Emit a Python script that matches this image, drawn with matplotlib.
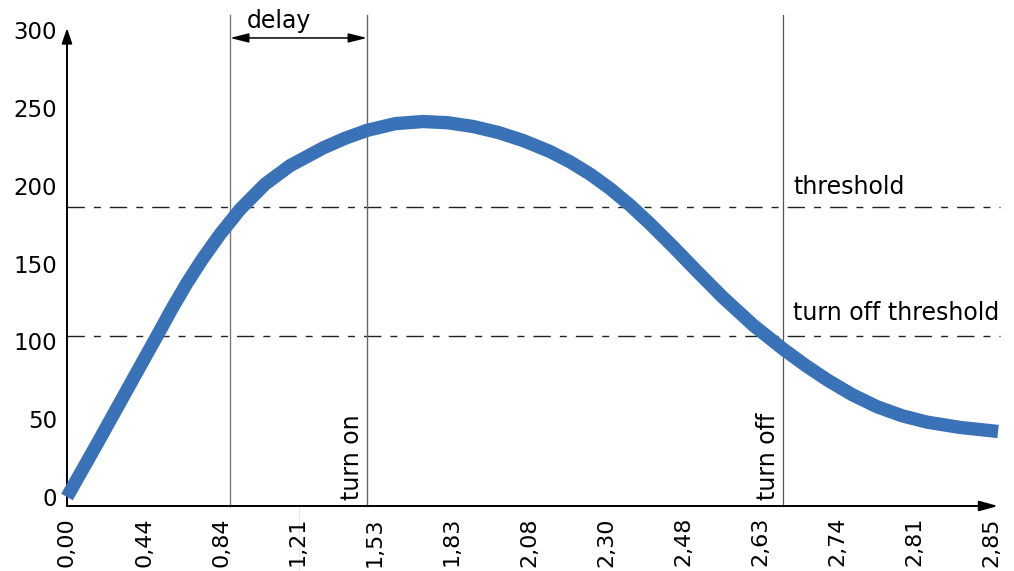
import matplotlib
matplotlib.use("Agg")
import matplotlib.pyplot as plt
from matplotlib.lines import Line2D

# ---- data ----
x_labels = ["0,00", "0,44", "0,84", "1,21", "1,53", "1,83", "2,08",
            "2,30", "2,48", "2,63", "2,74", "2,81", "2,85"]
y_ticks = [0, 50, 100, 150, 200, 250, 300]

# curve, x in tick-index units, y in value units
curve_x = [0.000, 0.390, 0.779, 1.169, 1.364, 1.558, 1.753, 1.987, 2.247,
           2.571, 2.896, 3.325, 3.610, 3.896, 4.260, 4.623, 4.948, 5.273,
           5.597, 5.922, 6.273, 6.532, 6.792, 7.052, 7.312, 7.571, 7.870,
           8.195, 8.519, 8.909, 9.299, 9.584, 9.870, 10.195, 10.519, 10.844,
           11.169, 11.597, 12.091]
curve_y = [0.0, 34.1, 68.8, 103.5, 121.1, 137.5, 152.5, 168.8, 184.8,
           201.0, 212.9, 224.3, 230.5, 235.6, 239.9, 241.3, 240.5, 238.1,
           234.3, 229.1, 222.0, 215.4, 207.5, 198.2, 187.5, 175.6, 160.9,
           144.3, 128.2, 110.5, 95.1, 84.8, 75.3, 65.8, 58.0, 52.2,
           48.1, 44.7, 42.1]

threshold = 186.4
turn_off_threshold = 103.5
delay_start_x = 2.117
turn_on_x = 3.896
turn_off_x = 9.299

# ---- figure ----
W, H = 1014, 571
fig = plt.figure(figsize=(W / 100, H / 100), dpi=100)
ax = fig.add_axes([67 / W, 65 / H, (998 - 67) / W, (506 - 28) / H])
ax.set_xlim(0, 12.09)
ax.set_ylim(-5.8, 301.4)

for s in ax.spines.values():
    s.set_visible(False)

# faint background frame
fig.add_artist(Line2D([299 / W, 299 / W], [1 - 82 / H, 0], transform=fig.transFigure,
                      color="#e8e8e8", lw=0.8, zorder=0))
fig.add_artist(Line2D([299 / W, 982 / W], [1 - 82 / H, 1 - 82 / H], transform=fig.transFigure,
                      color="#ececec", lw=0.8, zorder=0))

# axes with arrows
ax.annotate("", xy=(0, 1), xytext=(0, 0), xycoords="axes fraction",
            arrowprops=dict(arrowstyle="-|>,head_length=0.65,head_width=0.22",
                            mutation_scale=14, color="black", lw=1.4,
                            shrinkA=0, shrinkB=0))
ax.annotate("", xy=(1, 0), xytext=(0, 0), xycoords="axes fraction",
            arrowprops=dict(arrowstyle="-|>,head_length=0.8,head_width=0.22",
                            mutation_scale=14, color="black", lw=1.4,
                            shrinkA=0, shrinkB=0))

ax.set_xticks(range(len(x_labels)))
ax.set_xticklabels(x_labels, rotation=90)
ax.set_yticks(y_ticks)
ax.set_yticklabels([str(v) for v in y_ticks])
ax.tick_params(axis="x", length=0, pad=8, labelsize=16)
ax.tick_params(axis="y", length=0, pad=7, labelsize=16.5)

# threshold lines
dash = (12.5, 6.5, 5, 6.5)
for yv in (threshold, turn_off_threshold):
    ax.plot([0, 12.117], [yv, yv], color="#222222", lw=1.0, dashes=dash,
            clip_on=False, zorder=2)

# vertical markers
ymin, ymax = -5.8, 309.8
ax.plot([delay_start_x] * 2, [ymin, ymax], color="#7a7a7a", lw=1.0, clip_on=False, zorder=2)
ax.plot([turn_on_x] * 2, [ymin, ymax], color="#666666", lw=1.0, clip_on=False, zorder=2)
ax.plot([turn_off_x] * 2, [ymin, ymax], color="#555555", lw=0.9, clip_on=False, zorder=2)

# curve
ax.plot(curve_x, curve_y, color="#3a72b8", lw=9.6, solid_capstyle="butt",
        solid_joinstyle="round", clip_on=False, zorder=3)

# delay arrow
ax.annotate("", xy=(turn_on_x, 295), xytext=(delay_start_x, 295),
            arrowprops=dict(arrowstyle="<|-|>,head_length=0.8,head_width=0.2",
                            mutation_scale=14, color="black", lw=1.1,
                            shrinkA=0, shrinkB=0), annotation_clip=False)
ax.text(2.753, 306, "delay", ha="center", va="center", fontsize=17)

# labels
ax.text(9.429, 199.2, "threshold", ha="left", va="center", fontsize=17)
ax.text(9.429, 118.3, "turn off threshold", ha="left", va="center", fontsize=17)
ax.text(3.701, -1.9, "turn on", rotation=90, ha="center", va="bottom", fontsize=17)
ax.text(9.104, -1.9, "turn off", rotation=90, ha="center", va="bottom", fontsize=17)

fig.savefig("out.png", dpi=100)
